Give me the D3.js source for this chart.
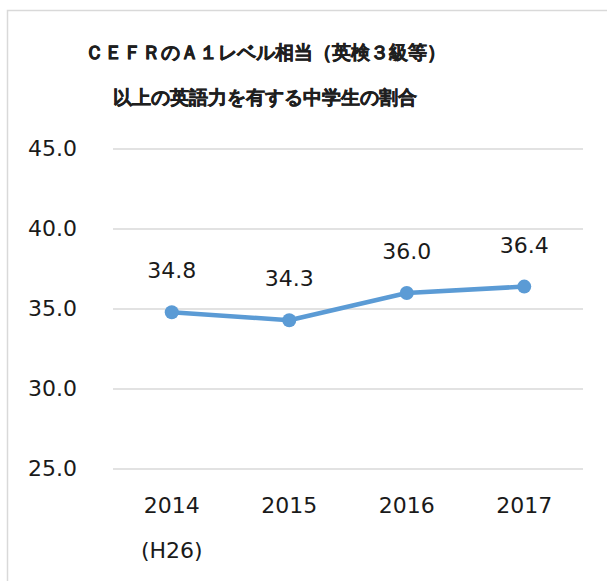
<!DOCTYPE html>
<html>
<head>
<meta charset="utf-8">
<script src="https://cdn.jsdelivr.net/npm/d3@7"></script>
<style>
body { margin: 0; background: #fff; }
text { font-family: "DejaVu Sans", Verdana, sans-serif; }
</style>
</head>
<body>
<script>
var width = 607;
var height = 581;
var years = ["2014", "2015", "2016", "2017"];
var subLabels = ["(H26)", "", "", ""];
var values = [34.8, 34.3, 36.0, 36.4];
var yTicks = [25, 30, 35, 40, 45];
var titleLines = ["ＣＥＦＲのＡ１レベル相当（英検３級等）", "以上の英語力を有する中学生の割合"];
var lineColor = "#5b9bd5";

var svg = d3.select('body').append('svg')
        .attr('width', width)
        .attr('height', height);

// chart frame
svg.append('rect')
        .attr('x', 7.5)
        .attr('y', 10.5)
        .attr('width', 640)
        .attr('height', 620)
        .attr('fill', '#fff')
        .attr('stroke', '#d9d9d9')
        .attr('stroke-width', 1.5);

// title
svg.selectAll('.title')
        .data(titleLines)
        .enter().append('text')
        .attr('x', 265)
        .attr('y', function(d, i) { return 59 + i * 45; })
        .attr('text-anchor', 'middle')
        .attr('font-family', '"Noto Sans CJK JP", sans-serif')
        .attr('font-weight', 'bold')
        .attr('font-size', 18.5)
        .attr('fill', '#1f1f1f')
        .attr('stroke', '#1f1f1f')
        .attr('stroke-width', 0.5)
        .text(function(d) { return d; });

var x = d3.scaleBand()
        .domain(years)
        .range([113, 583]);

var y = d3.scaleLinear()
        .domain([25, 45])
        .range([469, 149]);

// gridlines
svg.append('g')
        .selectAll('line')
        .data(yTicks)
        .enter().append('line')
        .attr('x1', 113)
        .attr('x2', 583)
        .attr('y1', function(d) { return y(d); })
        .attr('y2', function(d) { return y(d); })
        .attr('stroke', '#d9d9d9')
        .attr('stroke-width', 1.5);

// y axis labels
var yAxis = d3.axisLeft(y)
        .tickValues(yTicks)
        .tickFormat(d3.format('.1f'))
        .tickSize(0)
        .tickPadding(0);
var yg = svg.append('g')
        .attr('transform', 'translate(77,0)')
        .call(yAxis);
yg.select('.domain').remove();
yg.selectAll('text')
        .attr('font-size', 22)
        .attr('font-family', '"DejaVu Sans", Verdana, sans-serif')
        .attr('fill', '#1a1a1a')
        .attr('dy', '0.3em');

// x axis labels
var xAxis = d3.axisBottom(x).tickSize(0).tickPadding(0);
var xg = svg.append('g')
        .attr('transform', 'translate(0,497)')
        .call(xAxis);
xg.select('.domain').remove();
xg.selectAll('text')
        .attr('font-size', 22)
        .attr('font-family', '"DejaVu Sans", Verdana, sans-serif')
        .attr('fill', '#1a1a1a')
        .attr('dy', '0.71em');

svg.selectAll('.sub')
        .data(subLabels)
        .enter().append('text')
        .attr('x', function(d, i) { return x(years[i]) + x.bandwidth() / 2; })
        .attr('y', 558)
        .attr('text-anchor', 'middle')
        .attr('font-size', 22)
        .attr('fill', '#1a1a1a')
        .text(function(d) { return d; });

// line
var lineFunc = d3.line()
        .x(function(d, i) { return x(years[i]) + x.bandwidth() / 2; })
        .y(function(d) { return y(d); });

svg.append('path')
        .attr('d', lineFunc(values))
        .attr('fill', 'none')
        .attr('stroke', lineColor)
        .attr('stroke-width', 4.5)
        .attr('stroke-linejoin', 'round');

svg.selectAll('.dot')
        .data(values)
        .enter().append('circle')
        .attr('cx', function(d, i) { return x(years[i]) + x.bandwidth() / 2; })
        .attr('cy', function(d) { return y(d); })
        .attr('r', 7)
        .attr('fill', lineColor);

// data labels
svg.selectAll('.lbl')
        .data(values)
        .enter().append('text')
        .attr('x', function(d, i) { return x(years[i]) + x.bandwidth() / 2; })
        .attr('y', function(d) { return y(d) - 34; })
        .attr('text-anchor', 'middle')
        .attr('font-size', 22)
        .attr('fill', '#1a1a1a')
        .text(function(d) { return d.toFixed(1); });
</script>
</body>
</html>
